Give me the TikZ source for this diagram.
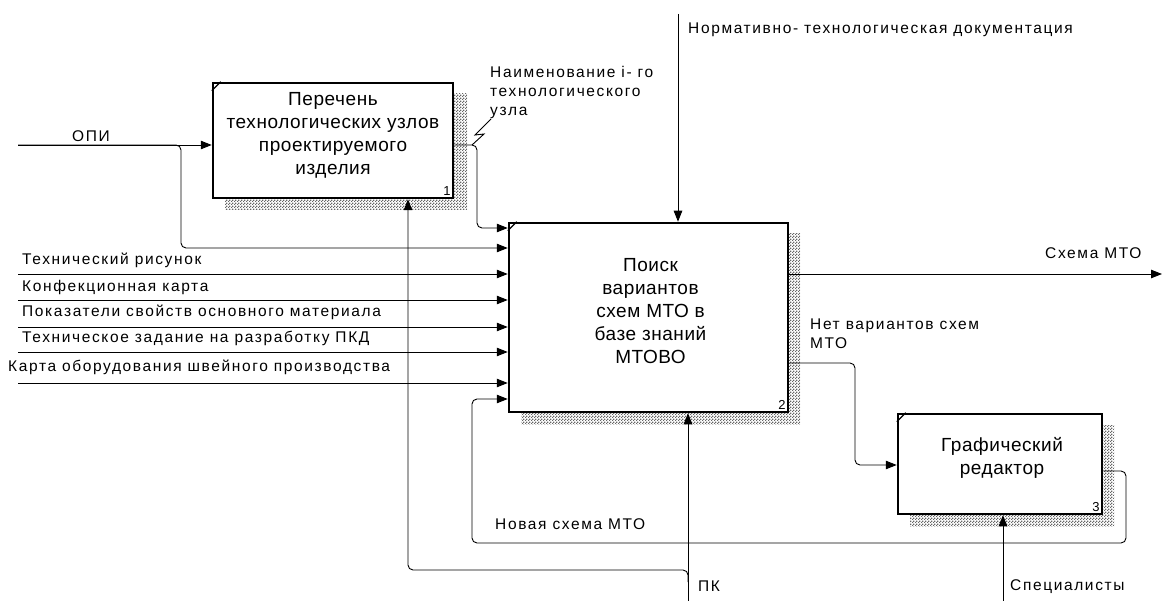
\documentclass[tikz,border=0pt]{standalone}
\usepackage{fontspec}
\setmainfont{Liberation Sans}
\usetikzlibrary{arrows.meta,patterns}
\newfontfamily\lblfont[LetterSpace=10.5]{Liberation Sans}
\newfontfamily\boxfont[LetterSpace=3]{Liberation Sans}
\pgfdeclarepatternformonly{idefshadow}{\pgfqpoint{0pt}{0pt}}{\pgfqpoint{3pt}{3pt}}{\pgfqpoint{3pt}{3pt}}{%
  \pgfpathrectangle{\pgfqpoint{0pt}{0pt}}{\pgfqpoint{1.5pt}{1.5pt}}%
  \pgfpathrectangle{\pgfqpoint{1.5pt}{1.5pt}}{\pgfqpoint{1.5pt}{1.5pt}}%
  \pgfusepath{fill}}
\begin{document}
\begin{tikzpicture}[x=1pt,y=-1pt,
  boxstyle/.style={draw, line width=2.5pt, fill=white, inner sep=0pt},
  boxtext/.style={align=center, inner sep=0pt, font=\boxfont\fontsize{19}{23}\selectfont},
  shadowstyle/.style={pattern=idefshadow, pattern color=black!60},
  arr/.style={line width=0.9pt, -{Triangle[length=11pt,width=8.5pt]}},
  conn/.style={line width=0.9pt},
  rc/.style={rounded corners=5pt},
  lbl/.style={inner sep=0pt, font=\lblfont\fontsize{15.5}{19}\selectfont, align=left},
  num/.style={inner sep=3.5pt, font=\fontsize{13}{14}\selectfont, anchor=south east}]
\useasboundingbox (0,0) rectangle (1162,601);
% shadows
\fill[shadowstyle] (225,94) rectangle (467,210);
\fill[shadowstyle] (521,234) rectangle (800,424);
\fill[shadowstyle] (910,425) rectangle (1114,526);
% boxes
\node[boxstyle, minimum width=240pt, minimum height=115pt] (b1) at (333,140.5) {};
\node[boxstyle, minimum width=279pt, minimum height=189pt] (b2) at (648.5,317.5) {};
\node[boxstyle, minimum width=204pt, minimum height=100pt] (b3) at (1000,464) {};
\node[boxtext] (b1t) at ([yshift=5pt]b1.center)
  {Перечень\\технологических узлов\\проектируемого\\изделия};
\node[boxtext] (b2t) at ([yshift=6pt,xshift=2pt]b2.center)
  {Поиск\\вариантов\\схем МТО в\\базе знаний\\МТОВО};
\node[boxtext] (b3t) at ([yshift=6pt,xshift=2pt]b3.center)
  {Графический\\редактор};
\foreach \b/\n in {b1/1,b2/2,b3/3}{
  \draw[line width=1.2pt] ([yshift=-9pt]\b.north west) -- ([xshift=9pt]\b.north west);
  \node[num] (n\n) at (\b.south east) {\n};
}
% coordinates
\coordinate (opiS) at (18,145);
\coordinate (opiK) at (181,248);
\coordinate (n1) at (477,228);
\coordinate (t1) at (18,274);
\coordinate (t2) at (18,300);
\coordinate (t3) at (18,327);
\coordinate (t4) at (18,352);
\coordinate (t5) at (18,383);
\coordinate (nd) at (678,14);
\coordinate (pk) at (688,601);
\coordinate (pkJ) at (688,582);
\coordinate (pkB) at (408,570);
\coordinate (sm) at (1162,274);
\coordinate (nv) at (855,363);
\coordinate (nv2) at (855,465);
\coordinate (ns1) at (1126,471);
\coordinate (ns2) at (1126,543);
\coordinate (ns3) at (472,543);
\coordinate (ns4) at (472,399);
\coordinate (sp) at (1003,601);
\coordinate (zz) at (491,119);
% connectors
\draw[arr] (opiS) -- (opiS -| b1.west);
\draw[arr, rc] (opiS) -| (opiK) -- (opiK -| b2.west);
\draw[arr, rc] (b1.east |- opiS) -| (n1) -- (n1 -| b2.west);
\foreach \t in {t1,t2,t3,t4,t5}{\draw[arr] (\t) -- (\t -| b2.west);}
\draw[arr] (nd) -- (nd |- b2.north);
\draw[arr] (pk) -- (pk |- b2.south);
\draw[arr, rc] (pkJ) |- (pkB) -- (pkB |- b1.south);
\draw[arr] (b2.east |- sm) -- (sm);
\draw[arr, rc] (b2.east |- nv) -- (nv) -- (nv2) -- (nv2 -| b3.west);
\draw[arr, rc] (b3.east |- ns1) -- (ns1) -- (ns2) -- (ns3) -- (ns4) -- (ns4 -| b2.west);
\draw[arr] (sp) -- (sp |- b3.south);
\draw[conn] (zz) -- (475,135) -- (484,134) -- (472,145);
% labels
\node[lbl, anchor=west] (lopi) at (72,136) {ОПИ};
\node[lbl, anchor=north west] (lnaim) at (490,66) {Наименование i- го\\технологического\\узла};
\node[lbl, anchor=west] (lnorm) at (688,30) {Нормативно- технологическая документация};
\node[lbl, anchor=west] (lt1) at (22,260) {Технический рисунок};
\node[lbl, anchor=west] (lt2) at (22,287) {Конфекционная карта};
\node[lbl, anchor=west] (lt3) at (22,312) {Показатели свойств основного материала};
\node[lbl, anchor=west] (lt4) at (22,338) {Техническое задание на разработку ПКД};
\node[lbl, anchor=west] (lt5) at (8,367) {Карта оборудования швейного производства};
\node[lbl, anchor=west] (lsm) at (1045,253) {Схема МТО};
\node[lbl, anchor=north west] (lnv) at (810,319) {Нет вариантов схем\\МТО};
\node[lbl, anchor=west] (lns) at (495,524) {Новая схема МТО};
\node[lbl, anchor=west] (lpk) at (698,586) {ПК};
\node[lbl, anchor=west] (lsp) at (1010,587) {Специалисты};
\end{tikzpicture}
\end{document}
